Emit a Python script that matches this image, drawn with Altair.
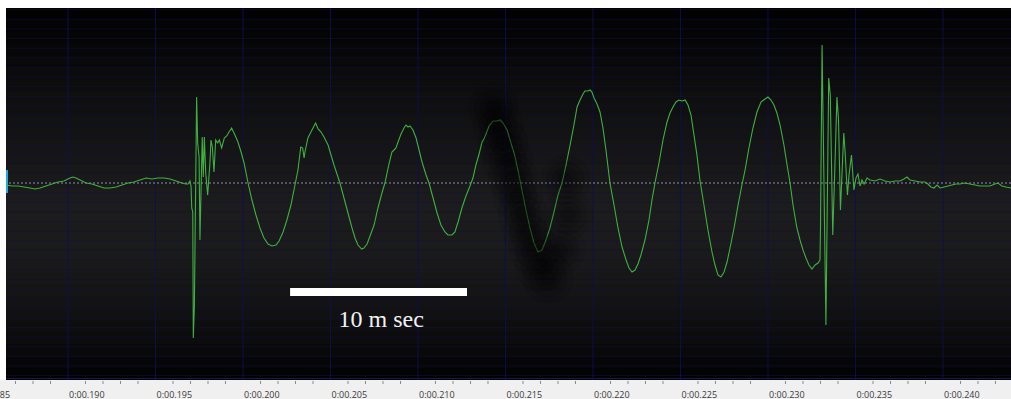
import altair as alt
import pandas as pd

# ---- waveform: time (ms) and amplitude (arbitrary units, 0 = baseline) ----
t_ms = [
    186.46, 186.80, 187.14, 187.49, 187.83, 188.11, 188.40, 188.74, 189.09, 189.43,
    189.77, 190.11, 190.29, 190.46, 190.69, 191.03, 191.37, 191.71, 192.06, 192.40,
    192.74, 193.09, 193.43, 193.77, 194.11, 194.46, 194.80, 195.14, 195.49, 195.83,
    196.17, 196.51, 196.74, 196.86, 196.97,
    197.03, 197.07, 197.13, 197.16, 197.22, 197.35, 197.41, 197.49, 197.54, 197.60,
    197.67, 197.73, 197.79, 197.87, 197.98, 198.11, 198.17, 198.25, 198.34, 198.44,
    198.55, 198.65, 198.78, 198.93, 199.07, 199.20, 199.35,
    199.54, 199.71, 199.89, 200.06, 200.29, 200.51, 200.74, 200.97, 201.20, 201.43,
    201.66, 201.89, 202.06, 202.29, 202.51, 202.74, 202.97, 203.14, 203.30, 203.41,
    203.49, 203.54, 203.71, 203.94, 204.15, 204.29, 204.46, 204.63, 204.86, 205.03,
    205.20, 205.54, 205.77, 206.00, 206.23, 206.40, 206.57, 206.78, 206.91, 207.09,
    207.26, 207.49, 207.71, 207.94, 208.11, 208.34, 208.51, 208.63, 208.74, 208.86,
    209.03, 209.20, 209.31, 209.43, 209.54, 209.71, 209.89, 210.06, 210.23, 210.46,
    210.63, 210.86, 211.09, 211.31, 211.54, 211.71, 211.94, 212.11, 212.29, 212.51,
    212.74, 212.97, 213.14, 213.31, 213.49, 213.66, 213.77, 213.89, 214.06, 214.29,
    214.51, 214.69, 214.86, 215.09, 215.31, 215.49, 215.71, 215.94, 216.17, 216.40,
    216.63, 216.86, 217.09, 217.31, 217.54, 217.77, 218.00, 218.23, 218.46, 218.69,
    218.91, 219.09, 219.26, 219.43, 219.54, 219.71, 219.83, 219.94, 220.06, 220.23,
    220.40, 220.57, 220.74, 220.97, 221.20, 221.43, 221.66, 221.89, 222.06, 222.23,
    222.40, 222.57, 222.74, 222.97, 223.20, 223.37, 223.54, 223.77, 224.00, 224.23,
    224.40, 224.57, 224.74, 224.91, 225.09, 225.26, 225.43, 225.60, 225.77, 225.94,
    226.11, 226.34, 226.57, 226.80, 226.97, 227.14, 227.31, 227.49, 227.66, 227.83,
    228.06, 228.29, 228.51, 228.69, 228.91, 229.14, 229.37, 229.60, 229.83, 230.00,
    230.17, 230.34, 230.51, 230.69, 230.91, 231.09, 231.26, 231.43, 231.64, 231.83,
    232.00, 232.17, 232.34, 232.51, 232.69, 232.86, 232.97,
    233.00, 233.09, 233.31, 233.47, 233.56, 233.70, 233.80, 233.94, 234.03, 234.14,
    234.33, 234.40, 234.54, 234.63, 234.77, 234.91, 235.03, 235.14, 235.26, 235.37,
    235.49, 235.66,
    235.83, 236.11, 236.40, 236.69, 236.97, 237.26, 237.54, 237.77, 237.94, 238.11,
    238.40, 238.69, 238.97, 239.14, 239.31, 239.49, 239.66, 239.83, 240.06, 240.29,
    240.51, 240.74, 240.97, 241.26, 241.54, 241.83, 242.11, 242.40, 242.69, 242.97,
    243.14, 243.37, 243.60, 243.89,
]
amp = [
    -2, -3, -3, -4, -5, -6, -5, -3, -1, 1,
    2, 5, 6, 5, 3, 0, -1, -3, -5, -5,
    -4, -2, 0, 1, 3, 5, 4, 5, 5, 4,
    2, 0, -1, -1, 2,
    -3, -25, -29, -155, -124, 86, 40, 26, -57, -10,
    46, 6, 46, 10, -12, 20, 43, 36, 11, 43,
    40, 43, 35, 45, 47, 51, 55,
    48, 41, 31, 20, 0, -17, -32, -45, -55, -61,
    -63, -62, -58, -49, -37, -22, -2, 13, 36, 35,
    25, 31, 45, 53, 60, 54, 51, 46, 38, 28,
    18, 0, -15, -30, -45, -55, -62, -66, -65, -61,
    -53, -42, -25, -10, 0, 19, 31, 33, 35, 41,
    49, 55, 58, 56, 57, 53, 45, 33, 21, 8,
    0, -15, -30, -42, -49, -52, -52, -49, -39, -25,
    -13, -3, 5, 18, 29, 41, 44, 49, 57, 62,
    62, 63, 60, 53, 40, 30, 13, -7, -27, -45,
    -60, -69, -67, -57, -45, -29, -12, 0, 18, 38,
    58, 76, 83, 89, 92, 92, 93, 91, 85, 79,
    71, 55, 33, 0, -22, -45, -64, -77, -85, -89,
    -87, -81, -72, -57, -37, -17, 0, 20, 43, 61,
    70, 76, 81, 83, 82, 83, 78, 68, 48, 28,
    3, -22, -47, -69, -82, -92, -94, -89, -79, -65,
    -45, -22, -2, 13, 35, 55, 71, 81, 84, 86,
    83, 78, 70, 58, 38, 18, 0, -22, -44, -57,
    -67, -75, -82, -86, -82, -80, -77,
    -45, 138, -142, 105, 88, -52, 3, 86, 63, -27,
    50, 33, -12, 8, 28, -7, 5, 9, -3, 3,
    -1, 5,
    3, 2, 4, 2, 1, 2, 2, 4, 6, 3,
    2, 1, 1, -1, -4, -5, -2, -5, -4, -3,
    -2, -1, -1, 0, -1, -2, -3, -3, -3, -1,
    0, -3, -4, -5,
]

# ---- axis ticks / labels (ms) ----
major_t = [190, 195, 200, 205, 210, 215, 220, 225, 230, 235, 240]
label_t = [184.6, 190, 195, 200, 205, 210, 215, 220, 225, 230, 235, 240]
label_text = ["0:00.185", "0:00.190", "0:00.195", "0:00.200", "0:00.205", "0:00.210",
              "0:00.215", "0:00.220", "0:00.225", "0:00.230", "0:00.235", "0:00.240"]
minor_t = [m for m in range(187, 244) if m % 5 != 0]

# ---- scale bar annotation ----
bar_t = [202.69, 212.80]
bar_v = [-105, -113]
bar_label = "10 m sec"
bar_label_t = 207.9
bar_label_v = -144

# ---- left cyan marker ----
marker_t = [186.46, 186.57]
marker_v = [13, -10]

# ---- smudge on the screen (a dark streak over the 4th cycle) ----
smudge_t = [214.29, 214.57, 214.86, 215.14, 215.43, 215.71, 216.00, 216.29, 216.63,
            216.97, 217.43, 218.40, 218.57, 218.11]
smudge_v = [75, 58, 40, 23, 5, -13, -31, -49, -67, -83, -95, 3, -32, -67]

# ---- screen background shading, top to bottom (grey levels) ----
shade_levels = [2, 4, 5, 7, 9, 11, 13, 15, 16, 18, 19, 21, 22, 24, 25, 27,
                28, 28, 27, 27, 26, 25, 23, 21, 19, 17, 14, 12, 9, 6, 3]

# ---- horizontal grid (screen divisions) ----
hgrid_v = [round(k * 9.63, 2) for k in range(-20, 19)]

X_DOM = [186.457, 243.886]
Y_DOM = [-197, 175]
W, H = 1005, 372

xs = alt.Scale(domain=X_DOM, nice=False, zero=False)
ys = alt.Scale(domain=Y_DOM, nice=False, zero=False)

one = pd.DataFrame({"a": [0]})
wave = pd.DataFrame({"t": t_ms, "v": amp})

band_h = (Y_DOM[1] - Y_DOM[0]) / len(shade_levels)
bands = pd.DataFrame({
    "v0": [Y_DOM[1] - i * band_h for i in range(len(shade_levels))],
    "v1": [Y_DOM[1] - (i + 1) * band_h - 0.5 for i in range(len(shade_levels))],
    "c": ["#%02x%02x%02x" % (g, g, g) for g in shade_levels],
})

bg = alt.Chart(bands).mark_rect().encode(
    x=alt.value(0), x2=alt.value(W),
    y=alt.Y("v0:Q", scale=ys, axis=None), y2="v1:Q",
    color=alt.Color("c:N", scale=None, legend=None),
)
strip = alt.Chart(one).mark_rect(color="#f0f0f0").encode(
    x=alt.value(-10), x2=alt.value(W + 10), y=alt.value(H), y2=alt.value(H + 25)
)
blue_edge = alt.Chart(one).mark_rule(color="#181850", strokeWidth=1).encode(
    x=alt.value(0), x2=alt.value(W), y=alt.value(H - 1.5)
)

hgrid = alt.Chart(pd.DataFrame({"v": hgrid_v})).mark_rule(
    color="#101040", strokeWidth=1, opacity=0.55
).encode(y=alt.Y("v:Q", scale=ys, axis=None))

vgrid = alt.Chart(pd.DataFrame({"t": major_t})).mark_rule(
    color="#10104e", strokeWidth=1, opacity=0.9
).encode(
    x=alt.X("t:Q", scale=xs,
            axis=alt.Axis(values=major_t, labels=False, title=None, grid=False,
                          tickSize=6, tickColor="#7a7a7a", tickWidth=1,
                          domainColor="#b4b4b4", domainWidth=2, offset=1, zindex=1))
)

center = alt.Chart(pd.DataFrame({"v": [0]})).mark_rule(
    color="#9090a8", strokeDash=[2, 2], strokeWidth=1
).encode(y=alt.Y("v:Q", scale=ys, axis=None))

marker = alt.Chart(pd.DataFrame({"t0": [marker_t[0]], "t1": [marker_t[1]],
                                 "v0": [marker_v[0]], "v1": [marker_v[1]]})).mark_rect(
    color="#1ab4ec"
).encode(x=alt.X("t0:Q", scale=xs, axis=None), x2="t1:Q",
         y=alt.Y("v0:Q", scale=ys, axis=None), y2="v1:Q")

line = alt.Chart(wave).mark_line(color="#40b040", strokeWidth=1.1).encode(
    x=alt.X("t:Q", scale=xs, axis=None), y=alt.Y("v:Q", scale=ys, axis=None)
)

smudge_df = pd.DataFrame({"t": smudge_t, "v": smudge_v})
smudge_layers = [
    alt.Chart(smudge_df).mark_circle(color="#000000", opacity=op, size=sz).encode(
        x=alt.X("t:Q", scale=xs, axis=None), y=alt.Y("v:Q", scale=ys, axis=None)
    )
    for sz, op in [(2600, 0.07), (1500, 0.1), (700, 0.13), (250, 0.15)]
]

bar = alt.Chart(pd.DataFrame({"t0": [bar_t[0]], "t1": [bar_t[1]],
                              "v0": [bar_v[0]], "v1": [bar_v[1]]})).mark_rect(
    color="#ffffff"
).encode(x=alt.X("t0:Q", scale=xs, axis=None), x2="t1:Q",
         y=alt.Y("v0:Q", scale=ys, axis=None), y2="v1:Q")

bar_text = alt.Chart(pd.DataFrame({"t": [bar_label_t], "v": [bar_label_v], "s": [bar_label]})).mark_text(
    font="Liberation Serif", fontSize=24, color="#f2f2f2", align="center", baseline="alphabetic"
).encode(x=alt.X("t:Q", scale=xs, axis=None), y=alt.Y("v:Q", scale=ys, axis=None), text="s:N")

minor = alt.Chart(pd.DataFrame({"t": minor_t})).mark_rule(color="#8a8a8a", strokeWidth=1).encode(
    x=alt.X("t:Q", scale=xs, axis=None), y=alt.value(H + 1), y2=alt.value(H + 4)
)

labels = alt.Chart(pd.DataFrame({"t": label_t, "s": label_text})).mark_text(
    font="Open Sans", fontSize=9, color="#3a3a3a", align="left", baseline="alphabetic", dx=1
).encode(x=alt.X("t:Q", scale=xs, axis=None), y=alt.value(H + 17.5), text="s:N")

chart = alt.layer(
    bg, strip, blue_edge, hgrid, vgrid, center, marker, line,
    *smudge_layers, bar, bar_text, minor, labels
).properties(
    width=W, height=H,
    autosize=alt.AutoSizeParams(type="none"),
    padding={"left": 6, "top": 8, "right": 0, "bottom": 19},
    background="#ffffff",
).configure_view(stroke=None)

chart.save("out.html", embed_options={"renderer": "svg", "actions": False})
